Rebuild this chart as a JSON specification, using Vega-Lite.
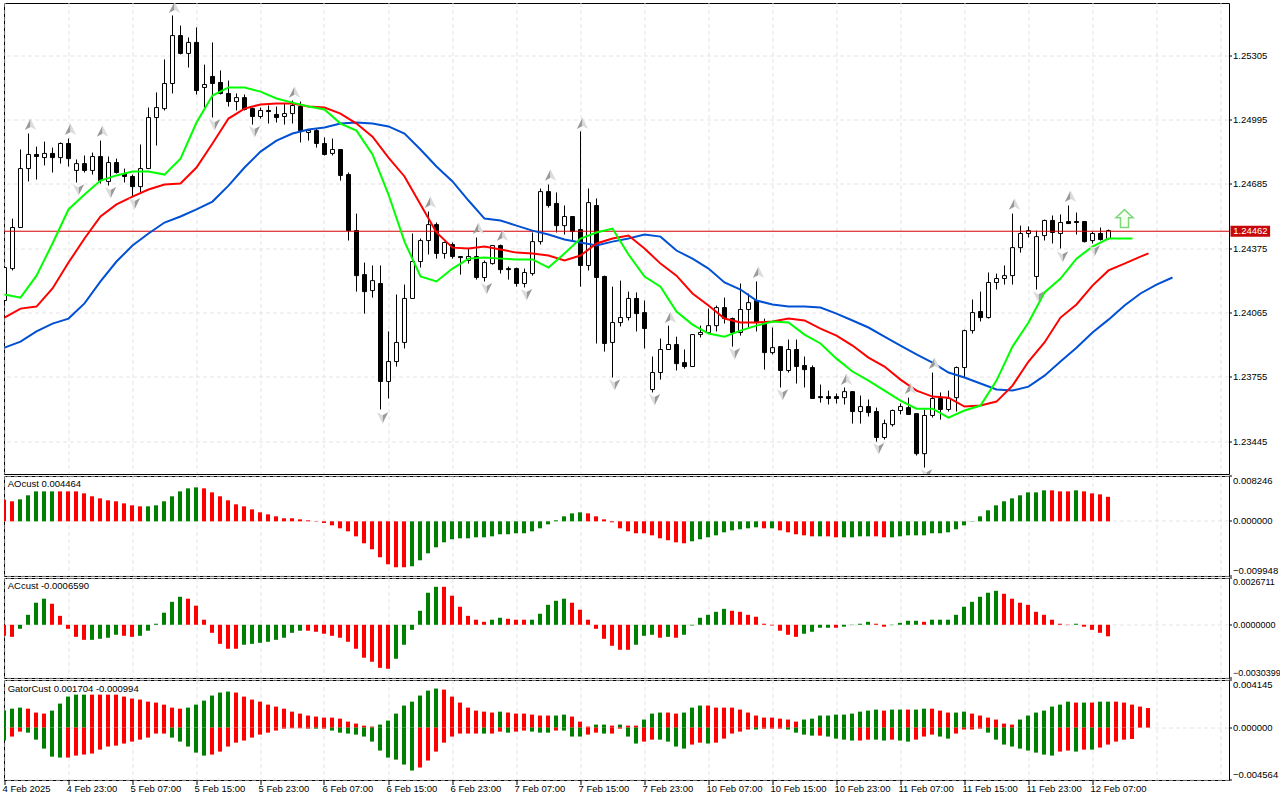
{
"$schema":"https://vega.github.io/schema/vega-lite/v6.json",
"padding":{"left":2,"top":2,"right":0,"bottom":0},
"background":"white",
"spacing":2,
"bounds":"flush",
"config":{
"view":{"stroke":"black","strokeWidth":1},
"concat":{"spacing":2},
"axis":{"translate":0,"labelFont":"Liberation Sans","labelFontSize":9.5,"labelColor":"black","labelOverlap":false,"tickColor":"black","tickSize":3,"labelPadding":1,"domain":false,"gridColor":"#e4e4e4","gridDash":[4,3],"gridWidth":1}
},
"datasets":{
"candles":[
{"i":0,"o":1.24125,"h":1.24284,"l":1.24101,"c":1.24284},
{"i":1,"o":1.24279,"h":1.24520,"l":1.24270,"c":1.24477},
{"i":2,"o":1.24477,"h":1.24853,"l":1.24477,"c":1.24761},
{"i":3,"o":1.24761,"h":1.24930,"l":1.24699,"c":1.24829},
{"i":4,"o":1.24829,"h":1.24867,"l":1.24708,"c":1.24819},
{"i":5,"o":1.24814,"h":1.24891,"l":1.24776,"c":1.24834},
{"i":6,"o":1.24834,"h":1.24862,"l":1.24742,"c":1.24814},
{"i":7,"o":1.24814,"h":1.24887,"l":1.24785,"c":1.24882},
{"i":8,"o":1.24882,"h":1.24906,"l":1.24771,"c":1.24809},
{"i":9,"o":1.24752,"h":1.24805,"l":1.24694,"c":1.24785},
{"i":10,"o":1.24785,"h":1.24824,"l":1.24742,"c":1.24752},
{"i":11,"o":1.24752,"h":1.24838,"l":1.24732,"c":1.24819},
{"i":12,"o":1.24819,"h":1.24896,"l":1.24689,"c":1.24703},
{"i":13,"o":1.24699,"h":1.24819,"l":1.24679,"c":1.24790},
{"i":14,"o":1.24790,"h":1.24809,"l":1.24737,"c":1.24742},
{"i":15,"o":1.24737,"h":1.24761,"l":1.24694,"c":1.24723},
{"i":16,"o":1.24723,"h":1.24732,"l":1.24626,"c":1.24674},
{"i":17,"o":1.24674,"h":1.24877,"l":1.24646,"c":1.24761},
{"i":18,"o":1.24761,"h":1.25055,"l":1.24761,"c":1.25007},
{"i":19,"o":1.25007,"h":1.25128,"l":1.24872,"c":1.25055},
{"i":20,"o":1.25050,"h":1.25287,"l":1.25041,"c":1.25171},
{"i":21,"o":1.25171,"h":1.25499,"l":1.25123,"c":1.25402},
{"i":22,"o":1.25402,"h":1.25450,"l":1.25311,"c":1.25316},
{"i":23,"o":1.25316,"h":1.25393,"l":1.25248,"c":1.25369},
{"i":24,"o":1.25369,"h":1.25441,"l":1.25118,"c":1.25137},
{"i":25,"o":1.25152,"h":1.25262,"l":1.25055,"c":1.25166},
{"i":26,"o":1.25205,"h":1.25369,"l":1.25007,"c":1.25171},
{"i":27,"o":1.25176,"h":1.25234,"l":1.25118,"c":1.25123},
{"i":28,"o":1.25123,"h":1.25185,"l":1.25060,"c":1.25084},
{"i":29,"o":1.25084,"h":1.25123,"l":1.25041,"c":1.25103},
{"i":30,"o":1.25103,"h":1.25118,"l":1.25041,"c":1.25046},
{"i":31,"o":1.25050,"h":1.25055,"l":1.24973,"c":1.25012},
{"i":32,"o":1.25012,"h":1.25055,"l":1.25002,"c":1.25041},
{"i":33,"o":1.25041,"h":1.25065,"l":1.24978,"c":1.25036},
{"i":34,"o":1.25022,"h":1.25060,"l":1.24983,"c":1.25007},
{"i":35,"o":1.25012,"h":1.25075,"l":1.24973,"c":1.25026},
{"i":36,"o":1.25026,"h":1.25089,"l":1.24978,"c":1.25065},
{"i":37,"o":1.25060,"h":1.25084,"l":1.24887,"c":1.24944},
{"i":38,"o":1.24935,"h":1.24944,"l":1.24896,"c":1.24944},
{"i":39,"o":1.24944,"h":1.24954,"l":1.24862,"c":1.24882},
{"i":40,"o":1.24882,"h":1.24911,"l":1.24824,"c":1.24829},
{"i":41,"o":1.24834,"h":1.24906,"l":1.24824,"c":1.24853},
{"i":42,"o":1.24853,"h":1.24853,"l":1.24703,"c":1.24728},
{"i":43,"o":1.24732,"h":1.24742,"l":1.24414,"c":1.24462},
{"i":44,"o":1.24462,"h":1.24544,"l":1.24168,"c":1.24245},
{"i":45,"o":1.24250,"h":1.24308,"l":1.24062,"c":1.24168},
{"i":46,"o":1.24173,"h":1.24294,"l":1.24139,"c":1.24221},
{"i":47,"o":1.24207,"h":1.24294,"l":1.23600,"c":1.23735},
{"i":48,"o":1.23735,"h":1.23976,"l":1.23653,"c":1.23831},
{"i":49,"o":1.23831,"h":1.24154,"l":1.23807,"c":1.23923},
{"i":50,"o":1.23923,"h":1.24202,"l":1.23894,"c":1.24135},
{"i":51,"o":1.24135,"h":1.24448,"l":1.24135,"c":1.24313},
{"i":52,"o":1.24313,"h":1.24424,"l":1.24284,"c":1.24414},
{"i":53,"o":1.24414,"h":1.24554,"l":1.24347,"c":1.24491},
{"i":54,"o":1.24491,"h":1.24501,"l":1.24327,"c":1.24352},
{"i":55,"o":1.24352,"h":1.24409,"l":1.24327,"c":1.24405},
{"i":56,"o":1.24395,"h":1.24405,"l":1.24327,"c":1.24337},
{"i":57,"o":1.24337,"h":1.24337,"l":1.24250,"c":1.24332},
{"i":58,"o":1.24318,"h":1.24376,"l":1.24303,"c":1.24337},
{"i":59,"o":1.24337,"h":1.24429,"l":1.24226,"c":1.24236},
{"i":60,"o":1.24236,"h":1.24318,"l":1.24217,"c":1.24308},
{"i":61,"o":1.24303,"h":1.24390,"l":1.24298,"c":1.24390},
{"i":62,"o":1.24390,"h":1.24395,"l":1.24255,"c":1.24274},
{"i":63,"o":1.24279,"h":1.24289,"l":1.24226,"c":1.24274},
{"i":64,"o":1.24279,"h":1.24284,"l":1.24192,"c":1.24207},
{"i":65,"o":1.24207,"h":1.24279,"l":1.24188,"c":1.24260},
{"i":66,"o":1.24255,"h":1.24453,"l":1.24245,"c":1.24409},
{"i":67,"o":1.24409,"h":1.24665,"l":1.24395,"c":1.24650},
{"i":68,"o":1.24650,"h":1.24684,"l":1.24573,"c":1.24583},
{"i":69,"o":1.24593,"h":1.24646,"l":1.24453,"c":1.24486},
{"i":70,"o":1.24486,"h":1.24583,"l":1.24443,"c":1.24530},
{"i":71,"o":1.24530,"h":1.24530,"l":1.24414,"c":1.24458},
{"i":72,"o":1.24467,"h":1.24940,"l":1.24192,"c":1.24294},
{"i":73,"o":1.24294,"h":1.24665,"l":1.24270,"c":1.24597},
{"i":74,"o":1.24583,"h":1.24617,"l":1.23918,"c":1.24236},
{"i":75,"o":1.24241,"h":1.24245,"l":1.23879,"c":1.23918},
{"i":76,"o":1.23923,"h":1.24192,"l":1.23754,"c":1.24019},
{"i":77,"o":1.24019,"h":1.24221,"l":1.24000,"c":1.24043},
{"i":78,"o":1.24043,"h":1.24168,"l":1.24029,"c":1.24135},
{"i":79,"o":1.24135,"h":1.24164,"l":1.23976,"c":1.24062},
{"i":80,"o":1.24067,"h":1.24125,"l":1.23894,"c":1.23990},
{"i":81,"o":1.23696,"h":1.23855,"l":1.23682,"c":1.23778},
{"i":82,"o":1.23778,"h":1.23942,"l":1.23744,"c":1.23889},
{"i":83,"o":1.23889,"h":1.24004,"l":1.23889,"c":1.23913},
{"i":84,"o":1.23913,"h":1.23951,"l":1.23788,"c":1.23821},
{"i":85,"o":1.23826,"h":1.23889,"l":1.23797,"c":1.23807},
{"i":86,"o":1.23807,"h":1.23961,"l":1.23807,"c":1.23961},
{"i":87,"o":1.23961,"h":1.24004,"l":1.23947,"c":1.23971},
{"i":88,"o":1.23971,"h":1.24086,"l":1.23971,"c":1.24004},
{"i":89,"o":1.24004,"h":1.24101,"l":1.23976,"c":1.24091},
{"i":90,"o":1.24091,"h":1.24139,"l":1.24014,"c":1.24038},
{"i":91,"o":1.24038,"h":1.24043,"l":1.23903,"c":1.23971},
{"i":92,"o":1.23971,"h":1.24207,"l":1.23956,"c":1.24082},
{"i":93,"o":1.24082,"h":1.24159,"l":1.23995,"c":1.24115},
{"i":94,"o":1.24125,"h":1.24217,"l":1.23976,"c":1.24019},
{"i":95,"o":1.24019,"h":1.24038,"l":1.23792,"c":1.23874},
{"i":96,"o":1.23874,"h":1.23995,"l":1.23865,"c":1.23898},
{"i":97,"o":1.23903,"h":1.23903,"l":1.23706,"c":1.23788},
{"i":98,"o":1.23788,"h":1.23937,"l":1.23778,"c":1.23889},
{"i":99,"o":1.23889,"h":1.23937,"l":1.23725,"c":1.23807},
{"i":100,"o":1.23812,"h":1.23855,"l":1.23706,"c":1.23792},
{"i":101,"o":1.23802,"h":1.23812,"l":1.23653,"c":1.23653},
{"i":102,"o":1.23662,"h":1.23720,"l":1.23633,"c":1.23657},
{"i":103,"o":1.23662,"h":1.23691,"l":1.23624,"c":1.23653},
{"i":104,"o":1.23662,"h":1.23677,"l":1.23629,"c":1.23653},
{"i":105,"o":1.23657,"h":1.23706,"l":1.23624,"c":1.23686},
{"i":106,"o":1.23686,"h":1.23686,"l":1.23532,"c":1.23590},
{"i":107,"o":1.23590,"h":1.23667,"l":1.23532,"c":1.23614},
{"i":108,"o":1.23614,"h":1.23648,"l":1.23566,"c":1.23585},
{"i":109,"o":1.23590,"h":1.23609,"l":1.23445,"c":1.23465},
{"i":110,"o":1.23465,"h":1.23551,"l":1.23455,"c":1.23532},
{"i":111,"o":1.23527,"h":1.23600,"l":1.23518,"c":1.23595},
{"i":112,"o":1.23595,"h":1.23629,"l":1.23576,"c":1.23614},
{"i":113,"o":1.23609,"h":1.23657,"l":1.23576,"c":1.23576},
{"i":114,"o":1.23580,"h":1.23580,"l":1.23378,"c":1.23387},
{"i":115,"o":1.23387,"h":1.23600,"l":1.23320,"c":1.23571},
{"i":116,"o":1.23571,"h":1.23778,"l":1.23561,"c":1.23653},
{"i":117,"o":1.23653,"h":1.23682,"l":1.23551,"c":1.23600},
{"i":118,"o":1.23600,"h":1.23691,"l":1.23590,"c":1.23653},
{"i":119,"o":1.23657,"h":1.23807,"l":1.23590,"c":1.23802},
{"i":120,"o":1.23802,"h":1.23985,"l":1.23754,"c":1.23980},
{"i":121,"o":1.23980,"h":1.24130,"l":1.23966,"c":1.24067},
{"i":122,"o":1.24072,"h":1.24168,"l":1.24024,"c":1.24043},
{"i":123,"o":1.24043,"h":1.24260,"l":1.24038,"c":1.24212},
{"i":124,"o":1.24212,"h":1.24255,"l":1.24178,"c":1.24231},
{"i":125,"o":1.24231,"h":1.24294,"l":1.24202,"c":1.24245},
{"i":126,"o":1.24245,"h":1.24544,"l":1.24202,"c":1.24380},
{"i":127,"o":1.24380,"h":1.24486,"l":1.24356,"c":1.24448},
{"i":128,"o":1.24448,"h":1.24482,"l":1.24429,"c":1.24462},
{"i":129,"o":1.24241,"h":1.24462,"l":1.24178,"c":1.24433},
{"i":130,"o":1.24438,"h":1.24515,"l":1.24414,"c":1.24511},
{"i":131,"o":1.24511,"h":1.24535,"l":1.24400,"c":1.24453},
{"i":132,"o":1.24448,"h":1.24540,"l":1.24376,"c":1.24501},
{"i":133,"o":1.24506,"h":1.24583,"l":1.24496,"c":1.24496},
{"i":134,"o":1.24506,"h":1.24549,"l":1.24443,"c":1.24501},
{"i":135,"o":1.24506,"h":1.24506,"l":1.24405,"c":1.24409},
{"i":136,"o":1.24414,"h":1.24458,"l":1.24400,"c":1.24448},
{"i":137,"o":1.24448,"h":1.24477,"l":1.24414,"c":1.24419},
{"i":138,"o":1.24424,"h":1.24467,"l":1.24419,"c":1.24462}
],
"lines":[
{"i":0,"lips":1.24154,"teeth":1.24043,"jaw":1.23898},
{"i":2,"lips":1.24139,"teeth":1.24086,"jaw":1.23927},
{"i":4,"lips":1.24245,"teeth":1.24096,"jaw":1.23976},
{"i":6,"lips":1.24400,"teeth":1.24183,"jaw":1.24014},
{"i":8,"lips":1.24564,"teeth":1.24308,"jaw":1.24038},
{"i":10,"lips":1.24636,"teeth":1.24424,"jaw":1.24111},
{"i":12,"lips":1.24703,"teeth":1.24530,"jaw":1.24217},
{"i":14,"lips":1.24728,"teeth":1.24588,"jaw":1.24313},
{"i":16,"lips":1.24747,"teeth":1.24626,"jaw":1.24390},
{"i":18,"lips":1.24747,"teeth":1.24660,"jaw":1.24448},
{"i":20,"lips":1.24732,"teeth":1.24684,"jaw":1.24501},
{"i":22,"lips":1.24809,"teeth":1.24689,"jaw":1.24530},
{"i":24,"lips":1.24983,"teeth":1.24766,"jaw":1.24564},
{"i":26,"lips":1.25113,"teeth":1.24882,"jaw":1.24602},
{"i":28,"lips":1.25152,"teeth":1.25002,"jaw":1.24679},
{"i":30,"lips":1.25152,"teeth":1.25050,"jaw":1.24766},
{"i":32,"lips":1.25132,"teeth":1.25070,"jaw":1.24843},
{"i":34,"lips":1.25099,"teeth":1.25075,"jaw":1.24896},
{"i":36,"lips":1.25079,"teeth":1.25075,"jaw":1.24930},
{"i":38,"lips":1.25060,"teeth":1.25060,"jaw":1.24949},
{"i":40,"lips":1.25046,"teeth":1.25055,"jaw":1.24959},
{"i":42,"lips":1.24978,"teeth":1.25026,"jaw":1.24978},
{"i":44,"lips":1.24944,"teeth":1.24978,"jaw":1.24983},
{"i":46,"lips":1.24829,"teeth":1.24915,"jaw":1.24978},
{"i":48,"lips":1.24636,"teeth":1.24814,"jaw":1.24964},
{"i":50,"lips":1.24409,"teeth":1.24723,"jaw":1.24930},
{"i":52,"lips":1.24241,"teeth":1.24588,"jaw":1.24853},
{"i":54,"lips":1.24217,"teeth":1.24453,"jaw":1.24771},
{"i":56,"lips":1.24279,"teeth":1.24380,"jaw":1.24699},
{"i":58,"lips":1.24327,"teeth":1.24376,"jaw":1.24607},
{"i":60,"lips":1.24332,"teeth":1.24385,"jaw":1.24520},
{"i":62,"lips":1.24327,"teeth":1.24371,"jaw":1.24511},
{"i":64,"lips":1.24323,"teeth":1.24356,"jaw":1.24486},
{"i":66,"lips":1.24323,"teeth":1.24352,"jaw":1.24462},
{"i":68,"lips":1.24284,"teeth":1.24342,"jaw":1.24443},
{"i":70,"lips":1.24352,"teeth":1.24318,"jaw":1.24419},
{"i":72,"lips":1.24424,"teeth":1.24342,"jaw":1.24405},
{"i":74,"lips":1.24453,"teeth":1.24400,"jaw":1.24390},
{"i":76,"lips":1.24472,"teeth":1.24424,"jaw":1.24409},
{"i":78,"lips":1.24347,"teeth":1.24438,"jaw":1.24424},
{"i":80,"lips":1.24241,"teeth":1.24376,"jaw":1.24443},
{"i":82,"lips":1.24192,"teeth":1.24303,"jaw":1.24433},
{"i":84,"lips":1.24072,"teeth":1.24245,"jaw":1.24366},
{"i":86,"lips":1.24009,"teeth":1.24159,"jaw":1.24327},
{"i":88,"lips":1.23966,"teeth":1.24101,"jaw":1.24279},
{"i":90,"lips":1.23951,"teeth":1.24038,"jaw":1.24212},
{"i":92,"lips":1.23980,"teeth":1.24019,"jaw":1.24178},
{"i":94,"lips":1.24004,"teeth":1.24019,"jaw":1.24125},
{"i":96,"lips":1.24024,"teeth":1.24024,"jaw":1.24106},
{"i":98,"lips":1.24019,"teeth":1.24038,"jaw":1.24096},
{"i":100,"lips":1.23961,"teeth":1.24029,"jaw":1.24096},
{"i":102,"lips":1.23918,"teeth":1.23990,"jaw":1.24091},
{"i":104,"lips":1.23845,"teeth":1.23956,"jaw":1.24062},
{"i":106,"lips":1.23783,"teeth":1.23908,"jaw":1.24029},
{"i":108,"lips":1.23739,"teeth":1.23850,"jaw":1.23995},
{"i":110,"lips":1.23691,"teeth":1.23807,"jaw":1.23951},
{"i":112,"lips":1.23643,"teeth":1.23744,"jaw":1.23908},
{"i":114,"lips":1.23604,"teeth":1.23691,"jaw":1.23865},
{"i":116,"lips":1.23604,"teeth":1.23662,"jaw":1.23826},
{"i":118,"lips":1.23561,"teeth":1.23657,"jaw":1.23778},
{"i":120,"lips":1.23595,"teeth":1.23614,"jaw":1.23754},
{"i":122,"lips":1.23619,"teeth":1.23619,"jaw":1.23725},
{"i":124,"lips":1.23739,"teeth":1.23638,"jaw":1.23696},
{"i":126,"lips":1.23903,"teeth":1.23715,"jaw":1.23691},
{"i":128,"lips":1.24019,"teeth":1.23831,"jaw":1.23710},
{"i":130,"lips":1.24164,"teeth":1.23923,"jaw":1.23763},
{"i":132,"lips":1.24231,"teeth":1.24043,"jaw":1.23831},
{"i":134,"lips":1.24327,"teeth":1.24106,"jaw":1.23898},
{"i":136,"lips":1.24385,"teeth":1.24197,"jaw":1.23971},
{"i":138,"lips":1.24424,"teeth":1.24270,"jaw":1.24033},
{"i":140,"lips":1.24424,"teeth":1.24303,"jaw":1.24101},
{"i":141,"lips":1.24424},
{"i":142,"teeth":1.24337,"jaw":1.24159},
{"i":143,"teeth":1.24352},
{"i":144,"jaw":1.24202},
{"i":146,"jaw":1.24236}
],
"fup":[{"i":3,"p":1.24973},{"i":8,"p":1.24949},{"i":12,"p":1.24940},{"i":21,"p":1.25537},{"i":36,"p":1.25128},{"i":53,"p":1.24597},{"i":59,"p":1.24472},{"i":62,"p":1.24438},{"i":68,"p":1.24728},{"i":72,"p":1.24978},{"i":83,"p":1.24043},{"i":94,"p":1.24260},{"i":105,"p":1.23744},{"i":113,"p":1.23701},{"i":116,"p":1.23821},{"i":126,"p":1.24588},{"i":133,"p":1.24626}],
"fdn":[{"i":9,"p":1.24660},{"i":13,"p":1.24646},{"i":16,"p":1.24593},{"i":26,"p":1.24973},{"i":31,"p":1.24940},{"i":47,"p":1.23561},{"i":60,"p":1.24183},{"i":65,"p":1.24154},{"i":76,"p":1.23720},{"i":81,"p":1.23648},{"i":91,"p":1.23870},{"i":97,"p":1.23672},{"i":109,"p":1.23412},{"i":115,"p":1.23286},{"i":129,"p":1.24144},{"i":132,"p":1.24337},{"i":136,"p":1.24366}],
"ao":[{"i":0,"c":"d","v":0.00394},{"i":1,"c":"d","v":0.00364},{"i":2,"c":"u","v":0.004},{"i":3,"c":"u","v":0.00473},{"i":4,"c":"u","v":0.00545},{"i":5,"c":"u","v":0.00545},{"i":6,"c":"u","v":0.00545},{"i":7,"c":"d","v":0.00545},{"i":8,"c":"d","v":0.00545},{"i":9,"c":"d","v":0.00545},{"i":10,"c":"d","v":0.00509},{"i":11,"c":"d","v":0.00455},{"i":12,"c":"d","v":0.00418},{"i":13,"c":"d","v":0.00382},{"i":14,"c":"d","v":0.00364},{"i":15,"c":"d","v":0.00327},{"i":16,"c":"d","v":0.00291},{"i":17,"c":"d","v":0.00273},{"i":18,"c":"u","v":0.00273},{"i":19,"c":"u","v":0.00291},{"i":20,"c":"u","v":0.00364},{"i":21,"c":"u","v":0.00455},{"i":22,"c":"u","v":0.00545},{"i":23,"c":"u","v":0.006},{"i":24,"c":"u","v":0.00618},{"i":25,"c":"d","v":0.006},{"i":26,"c":"d","v":0.00527},{"i":27,"c":"d","v":0.00455},{"i":28,"c":"d","v":0.00382},{"i":29,"c":"d","v":0.00309},{"i":30,"c":"d","v":0.00273},{"i":31,"c":"d","v":0.00218},{"i":32,"c":"d","v":0.00164},{"i":33,"c":"d","v":0.00127},{"i":34,"c":"d","v":0.00091},{"i":35,"c":"d","v":0.00055},{"i":36,"c":"d","v":0.00055},{"i":37,"c":"d","v":0.00036},{"i":38,"c":"d","v":0.00018},{"i":39,"c":"d","v":0.00006},{"i":40,"c":"d","v":-0.0003},{"i":41,"c":"d","v":-0.00073},{"i":42,"c":"d","v":-0.00127},{"i":43,"c":"d","v":-0.00182},{"i":44,"c":"d","v":-0.00273},{"i":45,"c":"d","v":-0.004},{"i":46,"c":"d","v":-0.00509},{"i":47,"c":"d","v":-0.00654},{"i":48,"c":"d","v":-0.00782},{"i":49,"c":"d","v":-0.00836},{"i":50,"c":"d","v":-0.00836},{"i":51,"c":"u","v":-0.00818},{"i":52,"c":"u","v":-0.00709},{"i":53,"c":"u","v":-0.00582},{"i":54,"c":"u","v":-0.00473},{"i":55,"c":"u","v":-0.00382},{"i":56,"c":"u","v":-0.00327},{"i":57,"c":"u","v":-0.00309},{"i":58,"c":"u","v":-0.00309},{"i":59,"c":"u","v":-0.00291},{"i":60,"c":"u","v":-0.00291},{"i":61,"c":"u","v":-0.00273},{"i":62,"c":"u","v":-0.00236},{"i":63,"c":"u","v":-0.00236},{"i":64,"c":"u","v":-0.00218},{"i":65,"c":"u","v":-0.00218},{"i":66,"c":"u","v":-0.00182},{"i":67,"c":"u","v":-0.00127},{"i":68,"c":"u","v":-0.00055},{"i":69,"c":"u","v":0.00018},{"i":70,"c":"u","v":0.00091},{"i":71,"c":"u","v":0.00145},{"i":72,"c":"u","v":0.00164},{"i":73,"c":"d","v":0.00145},{"i":74,"c":"d","v":0.00091},{"i":75,"c":"d","v":0.00036},{"i":76,"c":"d","v":-0.00018},{"i":77,"c":"d","v":-0.00127},{"i":78,"c":"d","v":-0.00182},{"i":79,"c":"d","v":-0.00218},{"i":80,"c":"d","v":-0.00218},{"i":81,"c":"d","v":-0.00255},{"i":82,"c":"d","v":-0.00309},{"i":83,"c":"d","v":-0.00345},{"i":84,"c":"d","v":-0.00382},{"i":85,"c":"d","v":-0.004},{"i":86,"c":"u","v":-0.00364},{"i":87,"c":"u","v":-0.00327},{"i":88,"c":"u","v":-0.00291},{"i":89,"c":"u","v":-0.00255},{"i":90,"c":"u","v":-0.002},{"i":91,"c":"u","v":-0.00164},{"i":92,"c":"u","v":-0.00145},{"i":93,"c":"u","v":-0.00127},{"i":94,"c":"u","v":-0.00109},{"i":95,"c":"d","v":-0.00127},{"i":96,"c":"u","v":-0.00127},{"i":97,"c":"d","v":-0.00164},{"i":98,"c":"d","v":-0.002},{"i":99,"c":"d","v":-0.00236},{"i":100,"c":"d","v":-0.00255},{"i":101,"c":"d","v":-0.00273},{"i":102,"c":"u","v":-0.00273},{"i":103,"c":"d","v":-0.00273},{"i":104,"c":"d","v":-0.00291},{"i":105,"c":"u","v":-0.00291},{"i":106,"c":"u","v":-0.00291},{"i":107,"c":"u","v":-0.00273},{"i":108,"c":"u","v":-0.00273},{"i":109,"c":"d","v":-0.00273},{"i":110,"c":"d","v":-0.00291},{"i":111,"c":"u","v":-0.00291},{"i":112,"c":"u","v":-0.00273},{"i":113,"c":"u","v":-0.00255},{"i":114,"c":"u","v":-0.00255},{"i":115,"c":"u","v":-0.00255},{"i":116,"c":"u","v":-0.00218},{"i":117,"c":"u","v":-0.00218},{"i":118,"c":"u","v":-0.002},{"i":119,"c":"u","v":-0.00145},{"i":120,"c":"u","v":-0.00073},{"i":121,"c":"u","v":0.00006},{"i":122,"c":"u","v":0.00091},{"i":123,"c":"u","v":0.002},{"i":124,"c":"u","v":0.00291},{"i":125,"c":"u","v":0.00364},{"i":126,"c":"u","v":0.00418},{"i":127,"c":"u","v":0.00473},{"i":128,"c":"u","v":0.00527},{"i":129,"c":"u","v":0.00527},{"i":130,"c":"u","v":0.00564},{"i":131,"c":"d","v":0.00564},{"i":132,"c":"d","v":0.00545},{"i":133,"c":"d","v":0.00545},{"i":134,"c":"u","v":0.00564},{"i":135,"c":"d","v":0.00545},{"i":136,"c":"d","v":0.00509},{"i":137,"c":"d","v":0.00491},{"i":138,"c":"d","v":0.004464}],
"ac":[{"i":0,"c":"d","v":-0.00063},{"i":1,"c":"d","v":-0.00069},{"i":2,"c":"u","v":-0.00023},{"i":3,"c":"u","v":0.00057},{"i":4,"c":"u","v":0.00126},{"i":5,"c":"u","v":0.00149},{"i":6,"c":"d","v":0.0012},{"i":7,"c":"d","v":0.00051},{"i":8,"c":"d","v":-0.00023},{"i":9,"c":"d","v":-0.00069},{"i":10,"c":"d","v":-0.00086},{"i":11,"c":"u","v":-0.00086},{"i":12,"c":"u","v":-0.0008},{"i":13,"c":"u","v":-0.00074},{"i":14,"c":"u","v":-0.00057},{"i":15,"c":"d","v":-0.00063},{"i":16,"c":"d","v":-0.00069},{"i":17,"c":"u","v":-0.00063},{"i":18,"c":"u","v":-0.00034},{"i":19,"c":"u","v":0.00006},{"i":20,"c":"u","v":0.00069},{"i":21,"c":"u","v":0.00131},{"i":22,"c":"u","v":0.0016},{"i":23,"c":"d","v":0.00149},{"i":24,"c":"d","v":0.00109},{"i":25,"c":"d","v":0.00029},{"i":26,"c":"d","v":-0.00046},{"i":27,"c":"d","v":-0.00109},{"i":28,"c":"d","v":-0.00137},{"i":29,"c":"d","v":-0.00137},{"i":30,"c":"u","v":-0.00114},{"i":31,"c":"u","v":-0.00109},{"i":32,"c":"u","v":-0.00103},{"i":33,"c":"u","v":-0.00097},{"i":34,"c":"u","v":-0.00086},{"i":35,"c":"u","v":-0.00074},{"i":36,"c":"u","v":-0.00046},{"i":37,"c":"u","v":-0.00034},{"i":38,"c":"d","v":-0.00034},{"i":39,"c":"d","v":-0.0004},{"i":40,"c":"d","v":-0.00051},{"i":41,"c":"d","v":-0.00063},{"i":42,"c":"d","v":-0.00074},{"i":43,"c":"d","v":-0.00097},{"i":44,"c":"d","v":-0.00137},{"i":45,"c":"d","v":-0.00188},{"i":46,"c":"d","v":-0.00211},{"i":47,"c":"d","v":-0.00246},{"i":48,"c":"d","v":-0.00251},{"i":49,"c":"u","v":-0.00194},{"i":50,"c":"u","v":-0.00114},{"i":51,"c":"u","v":-0.00029},{"i":52,"c":"u","v":0.0008},{"i":53,"c":"u","v":0.00183},{"i":54,"c":"u","v":0.00217},{"i":55,"c":"d","v":0.00217},{"i":56,"c":"d","v":0.00166},{"i":57,"c":"d","v":0.00103},{"i":58,"c":"d","v":0.00051},{"i":59,"c":"d","v":0.00029},{"i":60,"c":"d","v":0.00017},{"i":61,"c":"u","v":0.00029},{"i":62,"c":"u","v":0.0004},{"i":63,"c":"d","v":0.00034},{"i":64,"c":"d","v":0.00029},{"i":65,"c":"d","v":0.00029},{"i":66,"c":"u","v":0.00029},{"i":67,"c":"u","v":0.00063},{"i":68,"c":"u","v":0.00114},{"i":69,"c":"u","v":0.00137},{"i":70,"c":"u","v":0.00149},{"i":71,"c":"d","v":0.00126},{"i":72,"c":"d","v":0.00086},{"i":73,"c":"d","v":0.00029},{"i":74,"c":"d","v":-0.00023},{"i":75,"c":"d","v":-0.0008},{"i":76,"c":"d","v":-0.0012},{"i":77,"c":"d","v":-0.00143},{"i":78,"c":"d","v":-0.00143},{"i":79,"c":"u","v":-0.00114},{"i":80,"c":"u","v":-0.00063},{"i":81,"c":"u","v":-0.00057},{"i":82,"c":"d","v":-0.00074},{"i":83,"c":"u","v":-0.00069},{"i":84,"c":"d","v":-0.00074},{"i":85,"c":"u","v":-0.00057},{"i":86,"c":"u","v":-0.00004},{"i":87,"c":"u","v":0.0004},{"i":88,"c":"u","v":0.00057},{"i":89,"c":"u","v":0.00074},{"i":90,"c":"u","v":0.00091},{"i":91,"c":"d","v":0.0008},{"i":92,"c":"d","v":0.00074},{"i":93,"c":"d","v":0.00057},{"i":94,"c":"d","v":0.00046},{"i":95,"c":"d","v":0.00006},{"i":96,"c":"d","v":-0.00004},{"i":97,"c":"d","v":-0.00034},{"i":98,"c":"d","v":-0.00057},{"i":99,"c":"d","v":-0.00069},{"i":100,"c":"u","v":-0.00051},{"i":101,"c":"u","v":-0.0004},{"i":102,"c":"u","v":-0.00017},{"i":103,"c":"u","v":-0.00017},{"i":104,"c":"d","v":-0.00017},{"i":105,"c":"u","v":-0.00011},{"i":106,"c":"u","v":-0.00002},{"i":107,"c":"u","v":0.00006},{"i":108,"c":"u","v":0.00017},{"i":109,"c":"d","v":0.00006},{"i":110,"c":"d","v":-0.00011},{"i":111,"c":"u","v":-0.00002},{"i":112,"c":"u","v":0.00011},{"i":113,"c":"u","v":0.00023},{"i":114,"c":"u","v":0.00023},{"i":115,"c":"d","v":0.00017},{"i":116,"c":"u","v":0.00029},{"i":117,"c":"u","v":0.00029},{"i":118,"c":"u","v":0.00029},{"i":119,"c":"u","v":0.00057},{"i":120,"c":"u","v":0.00103},{"i":121,"c":"u","v":0.00131},{"i":122,"c":"u","v":0.0016},{"i":123,"c":"u","v":0.00183},{"i":124,"c":"u","v":0.00194},{"i":125,"c":"d","v":0.00177},{"i":126,"c":"d","v":0.00149},{"i":127,"c":"d","v":0.00126},{"i":128,"c":"d","v":0.00114},{"i":129,"c":"d","v":0.00074},{"i":130,"c":"d","v":0.00057},{"i":131,"c":"d","v":0.00029},{"i":132,"c":"d","v":0.00006},{"i":133,"c":"d","v":-0.00002},{"i":134,"c":"u","v":0.00006},{"i":135,"c":"d","v":-0.00011},{"i":136,"c":"d","v":-0.00029},{"i":137,"c":"d","v":-0.00046},{"i":138,"c":"d","v":-0.000659}],
"gatorUp":[{"i":0,"c":"u","v":0.00148},{"i":1,"c":"u","v":0.00165},{"i":2,"c":"u","v":0.00174},{"i":3,"c":"d","v":0.00165},{"i":4,"c":"d","v":0.00131},{"i":5,"c":"d","v":0.00122},{"i":6,"c":"u","v":0.00148},{"i":7,"c":"u","v":0.00209},{"i":8,"c":"u","v":0.0027},{"i":9,"c":"u","v":0.00287},{"i":10,"c":"u","v":0.00287},{"i":11,"c":"d","v":0.00287},{"i":12,"c":"d","v":0.00287},{"i":13,"c":"d","v":0.00287},{"i":14,"c":"d","v":0.00287},{"i":15,"c":"d","v":0.0027},{"i":16,"c":"d","v":0.00253},{"i":17,"c":"d","v":0.00244},{"i":18,"c":"d","v":0.00226},{"i":19,"c":"d","v":0.00218},{"i":20,"c":"d","v":0.002},{"i":21,"c":"d","v":0.00174},{"i":22,"c":"d","v":0.00165},{"i":23,"c":"u","v":0.00174},{"i":24,"c":"u","v":0.002},{"i":25,"c":"u","v":0.00235},{"i":26,"c":"u","v":0.00279},{"i":27,"c":"u","v":0.00305},{"i":28,"c":"u","v":0.00314},{"i":29,"c":"d","v":0.00305},{"i":30,"c":"d","v":0.0027},{"i":31,"c":"d","v":0.00244},{"i":32,"c":"d","v":0.00226},{"i":33,"c":"d","v":0.002},{"i":34,"c":"d","v":0.00183},{"i":35,"c":"d","v":0.00165},{"i":36,"c":"d","v":0.00139},{"i":37,"c":"d","v":0.00122},{"i":38,"c":"d","v":0.00105},{"i":39,"c":"d","v":0.00096},{"i":40,"c":"d","v":0.00087},{"i":41,"c":"d","v":0.00087},{"i":42,"c":"d","v":0.00078},{"i":43,"c":"d","v":0.00052},{"i":44,"c":"d","v":0.00035},{"i":45,"c":"d","v":0.00017},{"i":46,"c":"d","v":0.00009},{"i":47,"c":"u","v":0.00026},{"i":48,"c":"u","v":0.00061},{"i":49,"c":"u","v":0.00122},{"i":50,"c":"u","v":0.00192},{"i":51,"c":"u","v":0.00226},{"i":52,"c":"u","v":0.00279},{"i":53,"c":"u","v":0.00322},{"i":54,"c":"u","v":0.0034},{"i":55,"c":"d","v":0.00331},{"i":56,"c":"d","v":0.0027},{"i":57,"c":"d","v":0.00218},{"i":58,"c":"d","v":0.00174},{"i":59,"c":"d","v":0.00148},{"i":60,"c":"d","v":0.00139},{"i":61,"c":"d","v":0.00131},{"i":62,"c":"u","v":0.00139},{"i":63,"c":"d","v":0.00131},{"i":64,"c":"d","v":0.00122},{"i":65,"c":"d","v":0.00122},{"i":66,"c":"d","v":0.00113},{"i":67,"c":"d","v":0.00105},{"i":68,"c":"d","v":0.00105},{"i":69,"c":"u","v":0.00105},{"i":70,"c":"u","v":0.00113},{"i":71,"c":"d","v":0.00096},{"i":72,"c":"d","v":0.00052},{"i":73,"c":"d","v":0.00009},{"i":74,"c":"u","v":0.00026},{"i":75,"c":"u","v":0.00026},{"i":76,"c":"d","v":0.00017},{"i":77,"c":"u","v":0.00026},{"i":78,"c":"d","v":0.00017},{"i":79,"c":"d","v":0.00017},{"i":80,"c":"u","v":0.0007},{"i":81,"c":"u","v":0.00122},{"i":82,"c":"u","v":0.00131},{"i":83,"c":"d","v":0.00131},{"i":84,"c":"d","v":0.00122},{"i":85,"c":"u","v":0.00131},{"i":86,"c":"u","v":0.00174},{"i":87,"c":"u","v":0.00192},{"i":88,"c":"d","v":0.00192},{"i":89,"c":"d","v":0.00174},{"i":90,"c":"d","v":0.00174},{"i":91,"c":"d","v":0.00174},{"i":92,"c":"d","v":0.00157},{"i":93,"c":"d","v":0.00131},{"i":94,"c":"d","v":0.00105},{"i":95,"c":"d","v":0.00087},{"i":96,"c":"d","v":0.00087},{"i":97,"c":"d","v":0.00078},{"i":98,"c":"d","v":0.0007},{"i":99,"c":"d","v":0.00052},{"i":100,"c":"u","v":0.0007},{"i":101,"c":"u","v":0.00078},{"i":102,"c":"u","v":0.00105},{"i":103,"c":"u","v":0.00105},{"i":104,"c":"u","v":0.00113},{"i":105,"c":"u","v":0.00113},{"i":106,"c":"u","v":0.00122},{"i":107,"c":"u","v":0.00139},{"i":108,"c":"u","v":0.00148},{"i":109,"c":"u","v":0.00157},{"i":110,"c":"d","v":0.00148},{"i":111,"c":"u","v":0.00157},{"i":112,"c":"u","v":0.00157},{"i":113,"c":"d","v":0.00157},{"i":114,"c":"u","v":0.00157},{"i":115,"c":"u","v":0.00165},{"i":116,"c":"d","v":0.00165},{"i":117,"c":"d","v":0.00148},{"i":118,"c":"d","v":0.00131},{"i":119,"c":"u","v":0.00131},{"i":120,"c":"u","v":0.00139},{"i":121,"c":"d","v":0.00122},{"i":122,"c":"d","v":0.00105},{"i":123,"c":"d","v":0.00087},{"i":124,"c":"d","v":0.0007},{"i":125,"c":"d","v":0.00035},{"i":126,"c":"d","v":0.00026},{"i":127,"c":"u","v":0.0007},{"i":128,"c":"u","v":0.00105},{"i":129,"c":"u","v":0.00131},{"i":130,"c":"u","v":0.00148},{"i":131,"c":"u","v":0.00183},{"i":132,"c":"u","v":0.002},{"i":133,"c":"u","v":0.00226},{"i":134,"c":"d","v":0.00218},{"i":135,"c":"u","v":0.00218},{"i":136,"c":"d","v":0.00218},{"i":137,"c":"u","v":0.00226},{"i":138,"c":"u","v":0.00226},{"i":139,"c":"d","v":0.00226},{"i":140,"c":"d","v":0.00218},{"i":141,"c":"d","v":0.002},{"i":142,"c":"d","v":0.00183},{"i":143,"c":"d","v":0.001704}],
"gatorDn":[{"i":0,"c":"u","v":-0.00113},{"i":1,"c":"d","v":-0.00078},{"i":2,"c":"d","v":-0.00035},{"i":3,"c":"u","v":-0.00044},{"i":4,"c":"u","v":-0.00105},{"i":5,"c":"u","v":-0.00183},{"i":6,"c":"u","v":-0.00253},{"i":7,"c":"u","v":-0.00261},{"i":8,"c":"d","v":-0.00261},{"i":9,"c":"d","v":-0.00244},{"i":10,"c":"d","v":-0.00235},{"i":11,"c":"d","v":-0.00226},{"i":12,"c":"d","v":-0.00192},{"i":13,"c":"d","v":-0.00165},{"i":14,"c":"d","v":-0.00157},{"i":15,"c":"d","v":-0.00139},{"i":16,"c":"d","v":-0.00122},{"i":17,"c":"d","v":-0.00105},{"i":18,"c":"d","v":-0.00087},{"i":19,"c":"d","v":-0.00052},{"i":20,"c":"d","v":-0.00052},{"i":21,"c":"u","v":-0.00087},{"i":22,"c":"u","v":-0.00122},{"i":23,"c":"u","v":-0.00165},{"i":24,"c":"u","v":-0.00218},{"i":25,"c":"u","v":-0.00244},{"i":26,"c":"d","v":-0.00235},{"i":27,"c":"d","v":-0.00209},{"i":28,"c":"d","v":-0.00165},{"i":29,"c":"d","v":-0.00131},{"i":30,"c":"d","v":-0.00113},{"i":31,"c":"d","v":-0.00087},{"i":32,"c":"d","v":-0.00061},{"i":33,"c":"d","v":-0.00044},{"i":34,"c":"d","v":-0.00026},{"i":35,"c":"d","v":-0.00009},{"i":36,"c":"d","v":-0.00006},{"i":37,"c":"d","v":-0.00006},{"i":38,"c":"d","v":-0.00009},{"i":39,"c":"u","v":-0.00009},{"i":40,"c":"d","v":-0.00009},{"i":41,"c":"u","v":-0.00026},{"i":42,"c":"u","v":-0.00044},{"i":43,"c":"u","v":-0.00052},{"i":44,"c":"u","v":-0.00061},{"i":45,"c":"u","v":-0.00078},{"i":46,"c":"u","v":-0.00122},{"i":47,"c":"u","v":-0.002},{"i":48,"c":"u","v":-0.00261},{"i":49,"c":"u","v":-0.00279},{"i":50,"c":"u","v":-0.00322},{"i":51,"c":"u","v":-0.00374},{"i":52,"c":"d","v":-0.00348},{"i":53,"c":"d","v":-0.00287},{"i":54,"c":"d","v":-0.00209},{"i":55,"c":"d","v":-0.00131},{"i":56,"c":"d","v":-0.00078},{"i":57,"c":"d","v":-0.00052},{"i":58,"c":"d","v":-0.00052},{"i":59,"c":"d","v":-0.00052},{"i":60,"c":"u","v":-0.00052},{"i":61,"c":"d","v":-0.00052},{"i":62,"c":"d","v":-0.00035},{"i":63,"c":"u","v":-0.00044},{"i":64,"c":"d","v":-0.00035},{"i":65,"c":"d","v":-0.00026},{"i":66,"c":"u","v":-0.00035},{"i":67,"c":"u","v":-0.00044},{"i":68,"c":"u","v":-0.00044},{"i":69,"c":"d","v":-0.00026},{"i":70,"c":"u","v":-0.00026},{"i":71,"c":"u","v":-0.00078},{"i":72,"c":"u","v":-0.00078},{"i":73,"c":"d","v":-0.00061},{"i":74,"c":"d","v":-0.00044},{"i":75,"c":"u","v":-0.00052},{"i":76,"c":"d","v":-0.00052},{"i":77,"c":"d","v":-0.00009},{"i":78,"c":"u","v":-0.00078},{"i":79,"c":"u","v":-0.00139},{"i":80,"c":"d","v":-0.00122},{"i":81,"c":"d","v":-0.00105},{"i":82,"c":"u","v":-0.00105},{"i":83,"c":"u","v":-0.00122},{"i":84,"c":"u","v":-0.00165},{"i":85,"c":"u","v":-0.00183},{"i":86,"c":"d","v":-0.00148},{"i":87,"c":"d","v":-0.00131},{"i":88,"c":"u","v":-0.00139},{"i":89,"c":"d","v":-0.00131},{"i":90,"c":"d","v":-0.00096},{"i":91,"c":"d","v":-0.00052},{"i":92,"c":"d","v":-0.00035},{"i":93,"c":"d","v":-0.00017},{"i":94,"c":"u","v":-0.00017},{"i":95,"c":"d","v":-0.00009},{"i":96,"c":"d","v":-0.00009},{"i":97,"c":"d","v":-0.00009},{"i":98,"c":"u","v":-0.00017},{"i":99,"c":"u","v":-0.00044},{"i":100,"c":"u","v":-0.00061},{"i":101,"c":"u","v":-0.0007},{"i":102,"c":"d","v":-0.0007},{"i":103,"c":"u","v":-0.00078},{"i":104,"c":"u","v":-0.00096},{"i":105,"c":"u","v":-0.00105},{"i":106,"c":"u","v":-0.00113},{"i":107,"c":"d","v":-0.00113},{"i":108,"c":"d","v":-0.00105},{"i":109,"c":"u","v":-0.00105},{"i":110,"c":"u","v":-0.00113},{"i":111,"c":"d","v":-0.00105},{"i":112,"c":"u","v":-0.00113},{"i":113,"c":"u","v":-0.00122},{"i":114,"c":"d","v":-0.00105},{"i":115,"c":"d","v":-0.00078},{"i":116,"c":"d","v":-0.00061},{"i":117,"c":"u","v":-0.00078},{"i":118,"c":"u","v":-0.00096},{"i":119,"c":"d","v":-0.00052},{"i":120,"c":"d","v":-0.00017},{"i":121,"c":"d","v":-0.00017},{"i":122,"c":"d","v":-0.00009},{"i":123,"c":"u","v":-0.00044},{"i":124,"c":"u","v":-0.00105},{"i":125,"c":"u","v":-0.00148},{"i":126,"c":"u","v":-0.00165},{"i":127,"c":"u","v":-0.00183},{"i":128,"c":"u","v":-0.002},{"i":129,"c":"u","v":-0.00218},{"i":130,"c":"u","v":-0.00235},{"i":131,"c":"u","v":-0.00244},{"i":132,"c":"d","v":-0.00209},{"i":133,"c":"d","v":-0.002},{"i":134,"c":"u","v":-0.00209},{"i":135,"c":"d","v":-0.00192},{"i":136,"c":"u","v":-0.00192},{"i":137,"c":"d","v":-0.00174},{"i":138,"c":"d","v":-0.00148},{"i":139,"c":"d","v":-0.00122},{"i":140,"c":"d","v":-0.00105},{"i":141,"c":"d","v":-0.000994}]
},
"vconcat":[
{
"width":1225,"height":471,
"layer":[
{"data":{"name":"candles"},"mark":{"type":"rule","color":"black","strokeWidth":1,"clip":true},
"encoding":{
"x":{"field":"i","type":"quantitative","title":null,"scale":{"domain":[-0.0625,153.0625],"nice":false,"zero":false,"padding":0},"axis":{"values":[0,4,8,12,16,20,24,28,32,36,40,44,48,52,56,60,64,68,72,76,80,84,88,92,96,100,104,108,112,116,120,124,128,132,136,140,144,148,152],"labels":false,"ticks":false,"grid":true}},
"y":{"field":"l","type":"quantitative","title":null,"scale":{"domain":[1.23289,1.25559],"nice":false,"zero":false},"axis":{"orient":"right","values":[1.23445,1.236,1.23755,1.2391,1.24065,1.2422,1.24375,1.2453,1.24685,1.2484,1.24995,1.2515,1.25305,1.2546],"format":".5f","grid":true,"labelOverlap":false,"labelSeparation":0}},
"y2":{"field":"h"}}},
{"data":{"name":"candles"},"mark":{"type":"bar","width":4,"stroke":"black","strokeWidth":1,"clip":true},
"encoding":{
"x":{"field":"i","type":"quantitative","title":null},
"y":{"field":"o","type":"quantitative","title":null},
"y2":{"field":"c"},
"fill":{"condition":{"test":"datum.c>datum.o","value":"white"},"value":"black"}}},
{"data":{"values":[{"i":-0.0625,"i2":153.0625,"p":1.24459}]},"mark":{"type":"rule","color":"#d40000","strokeWidth":1,"clip":true},
"encoding":{
"x":{"field":"i","type":"quantitative","title":null},
"x2":{"field":"i2"},
"y":{"field":"p","type":"quantitative","title":null}}},
{"data":{"name":"lines"},"transform":[{"filter":"isValid(datum.jaw)"}],"mark":{"type":"line","color":"#0050d4","strokeWidth":2,"clip":true},
"encoding":{"x":{"field":"i","type":"quantitative","title":null},"y":{"field":"jaw","type":"quantitative","title":null}}},
{"data":{"name":"lines"},"transform":[{"filter":"isValid(datum.teeth)"}],"mark":{"type":"line","color":"#ff0000","strokeWidth":2,"clip":true},
"encoding":{"x":{"field":"i","type":"quantitative","title":null},"y":{"field":"teeth","type":"quantitative","title":null}}},
{"data":{"name":"lines"},"transform":[{"filter":"isValid(datum.lips)"}],"mark":{"type":"line","color":"#00ff00","strokeWidth":2,"clip":true},
"encoding":{"x":{"field":"i","type":"quantitative","title":null},"y":{"field":"lips","type":"quantitative","title":null}}},
{"data":{"name":"fup"},"mark":{"type":"point","shape":"M0,-1 L-0.95,0.9 L0,0.4 Z","size":144,"filled":true,"color":"#9a9a9a","opacity":1,"xOffset":2,"clip":true},
"encoding":{"x":{"field":"i","type":"quantitative","title":null},"y":{"field":"p","type":"quantitative","title":null}}},
{"data":{"name":"fup"},"mark":{"type":"point","shape":"M0,-1 L0.95,0.9 L0,0.4 Z","size":144,"filled":true,"color":"#dcdcdc","opacity":1,"xOffset":2,"clip":true},
"encoding":{"x":{"field":"i","type":"quantitative","title":null},"y":{"field":"p","type":"quantitative","title":null}}},
{"data":{"name":"fdn"},"mark":{"type":"point","shape":"M0,1 L0.95,-0.9 L0,-0.4 Z","size":144,"filled":true,"color":"#9a9a9a","opacity":1,"xOffset":2,"clip":true},
"encoding":{"x":{"field":"i","type":"quantitative","title":null},"y":{"field":"p","type":"quantitative","title":null}}},
{"data":{"name":"fdn"},"mark":{"type":"point","shape":"M0,1 L-0.95,-0.9 L0,-0.4 Z","size":144,"filled":true,"color":"#dcdcdc","opacity":1,"xOffset":2,"clip":true},
"encoding":{"x":{"field":"i","type":"quantitative","title":null},"y":{"field":"p","type":"quantitative","title":null}}},
{"data":{"values":[{"i":140,"p":1.2452}]},"mark":{"type":"point","shape":"M0,-1 L0.95,-0.1 L0.45,-0.1 L0.45,1 L-0.45,1 L-0.45,-0.1 L-0.95,-0.1 Z","size":324,"filled":false,"color":"#7ed67e","fill":"#f6fff0","fillOpacity":1,"strokeWidth":1.5,"opacity":1},
"encoding":{"x":{"field":"i","type":"quantitative","title":null},"y":{"field":"p","type":"quantitative","title":null}}},
{"data":{"values":[{"i":153.25,"i2":158.2,"p":1.24486,"p2":1.24433}]},"mark":{"type":"rect","color":"#c80808","clip":false},
"encoding":{"x":{"field":"i","type":"quantitative","title":null},"x2":{"field":"i2"},"y":{"field":"p","type":"quantitative","title":null},"y2":{"field":"p2"}}},
{"data":{"values":[{"i":153.6,"p":1.24459,"t":"1.24462"}]},"mark":{"type":"text","align":"left","baseline":"middle","font":"Liberation Sans","fontSize":9.5,"color":"white","clip":false},
"encoding":{"x":{"field":"i","type":"quantitative","title":null},"y":{"field":"p","type":"quantitative","title":null},"text":{"field":"t"}}}
]
},
{
"width":1225,"height":100,
"layer":[
{"data":{"name":"ao"},"mark":{"type":"bar","width":4,"xOffset":-0.5,"clip":true},
"encoding":{
"x":{"field":"i","type":"quantitative","title":null,"scale":{"domain":[-0.0625,153.0625],"nice":false,"zero":false,"padding":0},"axis":{"values":[0,4,8,12,16,20,24,28,32,36,40,44,48,52,56,60,64,68,72,76,80,84,88,92,96,100,104,108,112,116,120,124,128,132,136,140,144,148,152],"labels":false,"ticks":false,"grid":true}},
"y":{"field":"v","type":"quantitative","title":null,"scale":{"domain":[-0.009948,0.008246],"nice":false,"zero":false},"axis":{"orient":"right","values":[-0.009948,0,0.008246],"format":".6f","grid":true,"labelFlush":true}},
"y2":{"datum":0},
"color":{"field":"c","type":"nominal","legend":null,"scale":{"domain":["u","d"],"range":["#008000","#ff0000"]}}}},
{"data":{"values":[{"i":0.4,"v":0.0067,"t":"AOcust 0.004464"}]},"mark":{"type":"text","align":"left","baseline":"middle","font":"Liberation Sans","fontSize":9.5,"color":"black"},
"encoding":{"x":{"field":"i","type":"quantitative","title":null},"y":{"field":"v","type":"quantitative","title":null},"text":{"field":"t"}}}
]
},
{
"width":1225,"height":100,
"layer":[
{"data":{"name":"ac"},"mark":{"type":"bar","width":4,"xOffset":-0.5,"clip":true},
"encoding":{
"x":{"field":"i","type":"quantitative","title":null,"scale":{"domain":[-0.0625,153.0625],"nice":false,"zero":false,"padding":0},"axis":{"values":[0,4,8,12,16,20,24,28,32,36,40,44,48,52,56,60,64,68,72,76,80,84,88,92,96,100,104,108,112,116,120,124,128,132,136,140,144,148,152],"labels":false,"ticks":false,"grid":true}},
"y":{"field":"v","type":"quantitative","title":null,"scale":{"domain":[-0.0030399,0.0026711],"nice":false,"zero":false},"axis":{"orient":"right","values":[-0.0030399,0,0.0026711],"format":".7f","grid":true,"labelFlush":true,"labelFontSize":9}},
"y2":{"datum":0},
"color":{"field":"c","type":"nominal","legend":null,"scale":{"domain":["u","d"],"range":["#008000","#ff0000"]}}}},
{"data":{"values":[{"i":0.4,"v":0.00219,"t":"ACcust -0.0006590"}]},"mark":{"type":"text","align":"left","baseline":"middle","font":"Liberation Sans","fontSize":9.5,"color":"black"},
"encoding":{"x":{"field":"i","type":"quantitative","title":null},"y":{"field":"v","type":"quantitative","title":null},"text":{"field":"t"}}}
]
},
{
"width":1225,"height":100,
"layer":[
{"data":{"name":"gatorUp"},"mark":{"type":"bar","width":4,"xOffset":-0.5,"clip":true},
"encoding":{
"x":{"field":"i","type":"quantitative","title":null,"scale":{"domain":[-0.0625,153.0625],"nice":false,"zero":false,"padding":0},"axis":{"values":[0,4,8,12,16,20,24,28,32,36,40,44,48,52,56,60,64,68,72,76,80,84,88,92,96,100,104,108,112,116,120,124,128,132,136,140,144,148,152],"grid":true,"tickSize":5,"labelPadding":-1,"labelOffset":-2,"labelAlign":"left","labelOverlap":false,"labelBound":false,"labelFlush":false,"tickOpacity":{"condition":{"test":"datum.value % 8 === 0 && datum.value < 140","value":1},"value":0},"labelExpr":"({'0':'4 Feb 2025','8':'4 Feb 23:00','16':'5 Feb 07:00','24':'5 Feb 15:00','32':'5 Feb 23:00','40':'6 Feb 07:00','48':'6 Feb 15:00','56':'6 Feb 23:00','64':'7 Feb 07:00','72':'7 Feb 15:00','80':'7 Feb 23:00','88':'10 Feb 07:00','96':'10 Feb 15:00','104':'10 Feb 23:00','112':'11 Feb 07:00','120':'11 Feb 15:00','128':'11 Feb 23:00','136':'12 Feb 07:00'})[datum.value] || ''"}},
"y":{"field":"v","type":"quantitative","title":null,"scale":{"domain":[-0.004564,0.004145],"nice":false,"zero":false},"axis":{"orient":"right","values":[-0.004564,0,0.004145],"format":".6f","grid":true,"labelFlush":true}},
"y2":{"datum":0},
"color":{"field":"c","type":"nominal","legend":null,"scale":{"domain":["u","d"],"range":["#008000","#ff0000"]}}}},
{"data":{"name":"gatorDn"},"mark":{"type":"bar","width":4,"xOffset":-0.5,"clip":true},
"encoding":{
"x":{"field":"i","type":"quantitative","title":null},
"y":{"field":"v","type":"quantitative","title":null},
"y2":{"datum":0},
"color":{"field":"c","type":"nominal","legend":null,"scale":{"domain":["u","d"],"range":["#008000","#ff0000"]}}}},
{"data":{"values":[{"i":0.4,"v":0.0034,"t":"GatorCust 0.001704 -0.000994"}]},"mark":{"type":"text","align":"left","baseline":"middle","font":"Liberation Sans","fontSize":9.5,"color":"black"},
"encoding":{"x":{"field":"i","type":"quantitative","title":null},"y":{"field":"v","type":"quantitative","title":null},"text":{"field":"t"}}}
]
}
]
}
